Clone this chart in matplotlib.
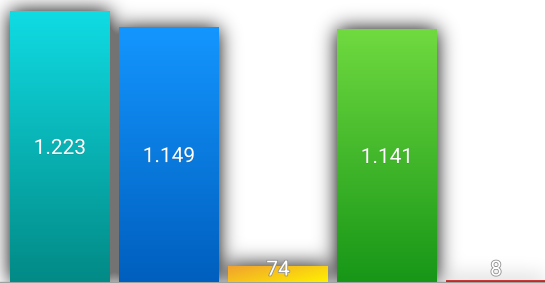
import numpy as np
import matplotlib
matplotlib.use('Agg')
import matplotlib.pyplot as plt
import matplotlib.patheffects as pe
from matplotlib.colors import LinearSegmentedColormap

labels = ['1.223', '1.149', '74', '1.141', '8']
values = [1223, 1149, 74, 1141, 8]
top_colors = ['#10dce4', '#1496ff', '#f0a030', '#70da40', '#d04040']
bottom_colors = ['#028a86', '#005fbe', '#fff000', '#179617', '#b82020']

W, H = 545, 283
fig = plt.figure(figsize=(W / 100, H / 100), dpi=100)
ax = fig.add_axes([0, 0, 1, 1])
ax.axis('off')

x = np.arange(len(values))
width = 100 / 109
x0, x1 = -60 / 109, (W - 60) / 109
y0, y1 = -1 / 0.2217, 282 / 0.2217
ax.set_xlim(x0, x1)
ax.set_ylim(y0, y1)

# shadow: blurred mask of the bars
gx = np.linspace(x0, x1, W)
gy = np.linspace(y1, y0, H)
XX, YY = np.meshgrid(gx, gy)
mask = np.zeros((H, W))
for xi, v in zip(x, values):
    inside = (XX >= xi - width / 2) & (XX <= xi + width / 2) & (YY <= v) & (YY >= 0)
    mask[inside] = 1
pad = 50
m = np.pad(mask, pad)
sig = 10
k = np.exp(-0.5 * (np.arange(-3 * sig, 3 * sig + 1) / sig) ** 2)
k /= k.sum()
m = np.apply_along_axis(lambda r: np.convolve(r, k, mode='same'), 1, m)
m = np.apply_along_axis(lambda c: np.convolve(c, k, mode='same'), 0, m)
m = m[pad:-pad, pad:-pad]
shadow = np.zeros((H, W, 4))
shadow[..., 3] = np.clip(m * 1.0, 0, 0.55)
ax.imshow(shadow, extent=(x0, x1, y0, y1), aspect='auto', zorder=1, interpolation='bilinear')

ax.axhline(0, color='#a0a0a0', lw=1, zorder=1.5)

bars = ax.bar(x, values, width=width, color='none', zorder=2)
grad = np.linspace(1, 0, 256).reshape(-1, 1)
for i, (b, v) in enumerate(zip(bars, values)):
    cmap = LinearSegmentedColormap.from_list('g%d' % i, [bottom_colors[i], top_colors[i]])
    if i == 2:
        gg = np.linspace(0, 1, 64)
        img = 1 - (gg[None, :] * 0.6 + gg[:, None] * 0.4)
    else:
        img = grad
    im = ax.imshow(img, cmap=cmap, extent=(b.get_x(), b.get_x() + b.get_width(), 0, max(v, 0.1)),
                   aspect='auto', zorder=2, interpolation='bilinear', vmin=0, vmax=1)
    im.set_clip_path(b)

for xi, v, lab in zip(x, values, labels):
    ax.text(xi, max(v / 2, 63), lab, ha='center', va='center_baseline', color='white', fontsize=15,
            family='Roboto', fontweight='normal', zorder=4,
            path_effects=[pe.withStroke(linewidth=1.2, foreground='#909090')] if v < 100 else
            [pe.withSimplePatchShadow(offset=(0, -0.5), alpha=0.3)])

fig.savefig('out.png', dpi=100)
